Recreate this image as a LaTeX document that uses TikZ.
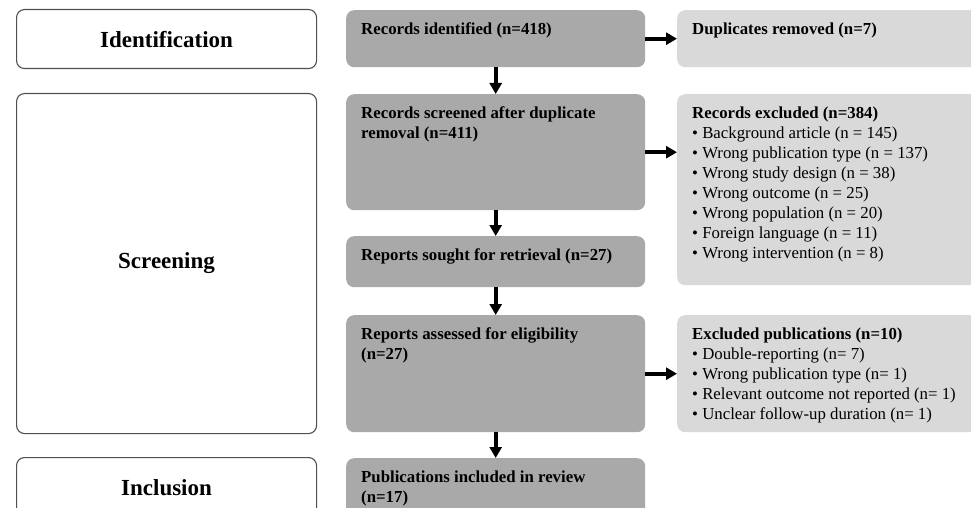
\documentclass[tikz,border=0pt]{standalone}
\usepackage{fontspec}
\setmainfont{Liberation Serif}
\usetikzlibrary{arrows.meta}

\definecolor{stepgray}{RGB}{169,169,169}
\definecolor{exclgray}{RGB}{217,217,217}
\definecolor{framegray}{RGB}{80,80,80}

% box text: height, width, content (top aligned)
\newcommand{\boxtext}[3]{\parbox[c][#1][t]{#2}{\rule{0pt}{24pt}#3}}

\tikzset{
    phase/.style={draw=framegray, line width=1.1pt, rounded corners=8pt,
        anchor=north west, minimum width=300pt, inner sep=0pt,
        font=\fontsize{23}{27}\selectfont\bfseries},
    stepbox/.style={fill=stepgray, rounded corners=8pt, anchor=north west,
        inner xsep=15pt, inner ysep=0pt, font=\fontsize{16.8}{20}\selectfont},
    exclbox/.style={stepbox, fill=exclgray},
    flow/.style={line width=4pt, -{Triangle[width=12pt,length=11pt]}}
}

\begin{document}
\begin{tikzpicture}[x=1pt,y=-1pt]

    \clip (0,0) rectangle (971,508);

    % phases
    \node[phase, minimum height=59pt] (identification) at (16,9) {Identification};
    \node[phase, minimum height=340pt] (screening) at (16,93) {Screening};
    \node[phase, minimum height=60pt] (inclusion) at (16,457) {Inclusion};

    % main flow
    \node[stepbox] (identified) at (346,10) {
        \boxtext{57pt}{269pt}{\textbf{Records identified (n=418)}}
    };

    \node[stepbox] (screened) at (346,94) {
        \boxtext{116pt}{269pt}{\textbf{Records screened after duplicate\\
        removal (n=411)}}
    };

    \node[stepbox] (sought) at (346,236) {
        \boxtext{51pt}{269pt}{\textbf{Reports sought for retrieval (n=27)}}
    };

    \node[stepbox] (assessed) at (346,315) {
        \boxtext{117pt}{269pt}{\textbf{Reports assessed for eligibility\\
        (n=27)}}
    };

    \node[stepbox] (included) at (346,458) {
        \boxtext{60pt}{269pt}{\textbf{Publications included in review\\
        (n=17)}}
    };

    % exclusions
    \node[exclbox] (duplicates) at (677,10) {
        \boxtext{57pt}{290pt}{\textbf{Duplicates removed (n=7)}}
    };

    \node[exclbox] (excluded) at (677,94) {
        \boxtext{191pt}{290pt}{\textbf{Records excluded (n=384)}\\
            \textbullet\ Background article (n = 145)\\
            \textbullet\ Wrong publication type (n = 137)\\
            \textbullet\ Wrong study design (n = 38)\\
            \textbullet\ Wrong outcome (n = 25)\\
            \textbullet\ Wrong population (n = 20)\\
            \textbullet\ Foreign language (n = 11)\\
            \textbullet\ Wrong intervention (n = 8)}
    };

    \node[exclbox] (excludedpubs) at (677,315) {
        \boxtext{117pt}{290pt}{\textbf{Excluded publications (n=10)}\\
            \textbullet\ Double-reporting (n= 7)\\
            \textbullet\ Wrong publication type (n= 1)\\
            \textbullet\ Relevant outcome not reported (n= 1)\\
            \textbullet\ Unclear follow-up duration (n= 1)}
    };

    \draw[flow] (identified.south) -- (screened.north);
    \draw[flow] (screened.south) -- (sought.north);
    \draw[flow] (sought.south) -- (assessed.north);
    \draw[flow] (assessed.south) -- (included.north);

    \draw[flow] (identified.east) -- (duplicates.west);
    \draw[flow] (screened.east) -- (screened.east -| excluded.west);
    \draw[flow] (assessed.east) -- (excludedpubs.west);

\end{tikzpicture}
\end{document}
